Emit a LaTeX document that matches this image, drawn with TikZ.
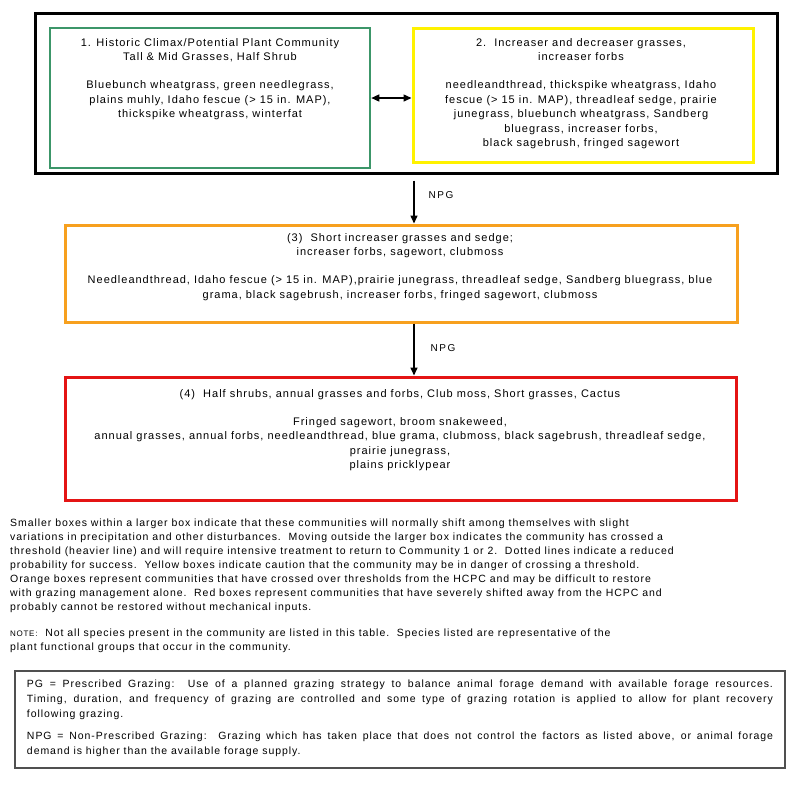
\documentclass[tikz,border=0pt]{standalone}
\usepackage{fontspec}
\setmainfont{Liberation Sans}
\newfontfamily\boxfont[LetterSpace=9]{Liberation Sans}
\newfontfamily\parafont[LetterSpace=9]{Liberation Sans}
\newfontfamily\lblfont[LetterSpace=15]{Liberation Sans}
\usetikzlibrary{arrows.meta}
\definecolor{cgreen}{RGB}{60,150,105}
\definecolor{cyellow}{RGB}{255,242,0}
\definecolor{corange}{RGB}{247,160,30}
\definecolor{cred}{RGB}{228,20,20}
\definecolor{cgray}{RGB}{80,80,80}
\tikzset{
  frame/.style={draw, rectangle, inner sep=0pt, line width=3pt},
  boxtext/.style={anchor=north, align=center, inner sep=0pt, font=\boxfont\fontsize{11}{14.4}\selectfont},
  arr/.style={line width=1.5pt, -{Triangle[length=8pt,width=7pt]}},
  darr/.style={line width=1.5pt, {Triangle[length=8pt,width=7pt]}-{Triangle[length=8pt,width=7pt]}},
  lbl/.style={font=\lblfont\fontsize{10}{12}\selectfont, inner sep=0pt},
  para/.style={anchor=north west, align=left, inner sep=0pt, font=\parafont\fontsize{10.5}{14.1}\selectfont}
}
\begin{document}
\begin{tikzpicture}[x=1pt,y=-1pt]
\useasboundingbox[fill=white] (0,0) rectangle (800,796);
% boxes
\node[frame, draw=black, minimum width=742pt, minimum height=160pt] (outer) at (406,93) {};
\node[frame, draw=cgreen, line width=2.6pt, minimum width=320pt, minimum height=140pt] (green) at (210,98) {};
\node[frame, draw=cyellow, minimum width=340pt, minimum height=134pt] (yellow) at (583,95) {};
\node[frame, draw=corange, minimum width=672pt, minimum height=97pt] (orange) at (401,273.5) {};
\node[frame, draw=cred, minimum width=671pt, minimum height=123pt] (red) at (400.5,438.5) {};
\node[frame, draw=cgray, line width=1.3pt, minimum width=770pt, minimum height=97pt] (legend) at (400,719.5) {};
% box texts
\node[boxtext] (gtext) at (210,38) {1. Historic Climax/Potential Plant Community\\Tall \& Mid Grasses, Half Shrub\\[14pt]Bluebunch wheatgrass, green needlegrass,\\plains muhly, Idaho fescue (> 15 in. MAP),\\thickspike wheatgrass, winterfat};
\node[boxtext] (ytext) at (581,38) {2.\ \ Increaser and decreaser grasses,\\increaser forbs\\[14pt]needleandthread, thickspike wheatgrass, Idaho\\fescue (> 15 in. MAP), threadleaf sedge, prairie\\junegrass, bluebunch wheatgrass, Sandberg\\bluegrass, increaser forbs,\\black sagebrush, fringed sagewort};
\node[boxtext] (otext) at (400,233) {(3)\ \ Short increaser grasses and sedge;\\increaser forbs, sagewort, clubmoss\\[14pt]Needleandthread, Idaho fescue (> 15 in. MAP),prairie junegrass, threadleaf sedge, Sandberg bluegrass, blue\\grama, black sagebrush, increaser forbs, fringed sagewort, clubmoss};
\node[boxtext] (rtext) at (400,389) {(4)\ \ Half shrubs, annual grasses and forbs, Club moss, Short grasses, Cactus\\[14pt]Fringed sagewort, broom snakeweed,\\annual grasses, annual forbs, needleandthread, blue grama, clubmoss, black sagebrush, threadleaf sedge,\\prairie junegrass,\\plains pricklypear};
% connectors
\coordinate (ax) at (414,0);
\draw[darr] (green.east) -- (green.east -| yellow.west);
\draw[arr, shorten <=6pt] (outer.south -| ax) -- (orange.north -| ax);
\draw[arr] (orange.south -| ax) -- (red.north -| ax);
\node[lbl] (npg1) at (441,195) {NPG};
\node[lbl] (npg2) at (443,348) {NPG};
% explanatory text
\node[para] (expl) at (10,518.5) {Smaller boxes within a larger box indicate that these communities will normally shift among themselves with slight\\variations in precipitation and other disturbances.\ \ Moving outside the larger box indicates the community has crossed a\\threshold (heavier line) and will require intensive treatment to return to Community 1 or 2.\ \ Dotted lines indicate a reduced\\probability for success.\ \ Yellow boxes indicate caution that the community may be in danger of crossing a threshold.\\Orange boxes represent communities that have crossed over thresholds from the HCPC and may be difficult to restore\\with grazing management alone.\ \ Red boxes represent communities that have severely shifted away from the HCPC and\\probably cannot be restored without mechanical inputs.};
\node[para] (note) at (10,628.5) {{\fontsize{8}{10}\selectfont NOTE:}\ \ Not all species present in the community are listed in this table.\ \ Species listed are representative of the\\plant functional groups that occur in the community.};
\node[anchor=north, inner sep=0pt, text width=746pt, align=justify, font=\parafont\fontsize{10.5}{14.6}\selectfont] (ltext) at (400,680) {PG = Prescribed Grazing:\ \ Use of a planned grazing strategy to balance animal forage demand with available forage resources.\linebreak Timing, duration, and frequency of grazing are controlled and some type of grazing rotation is applied to allow for plant recovery\linebreak following grazing.\par\vspace{8pt}NPG = Non-Prescribed Grazing:\ \ Grazing which has taken place that does not control the factors as listed above, or animal forage\linebreak demand is higher than the available forage supply.};
\end{tikzpicture}
\end{document}
